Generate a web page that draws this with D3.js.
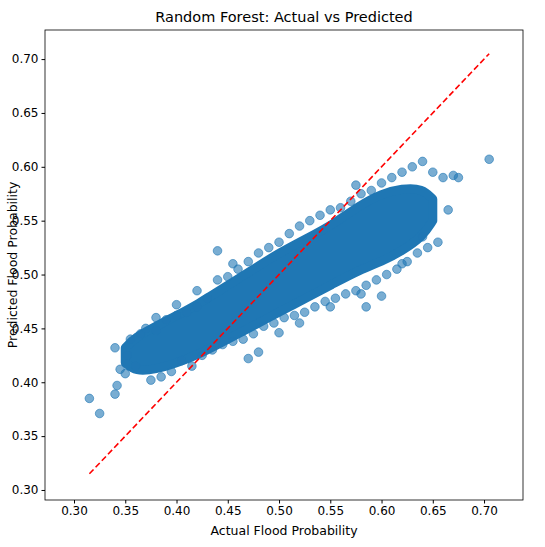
<!DOCTYPE html>
<html><head><meta charset="utf-8">
<script src="https://cdn.jsdelivr.net/npm/d3@7"></script>
<style>body{margin:0;background:#fff;font-family:"DejaVu Sans",sans-serif}</style>
</head><body><svg id="c" width="545" height="547"></svg>
<script>
const xTicks=[0.30,0.35,0.40,0.45,0.50,0.55,0.60,0.65,0.70];
const yTicks=[0.30,0.35,0.40,0.45,0.50,0.55,0.60,0.65,0.70];
// dense core of the cloud (lower / upper edge of predicted per actual)
const bandX=   [0.350,0.360,0.380,0.400,0.420,0.450,0.480,0.500,0.530,0.550,0.580,0.600,0.620,0.640,0.650];
const bandLow= [0.418,0.410,0.412,0.418,0.425,0.440,0.455,0.465,0.480,0.490,0.505,0.512,0.522,0.535,0.550];
const bandHigh=[0.432,0.442,0.452,0.462,0.472,0.490,0.508,0.520,0.535,0.545,0.565,0.575,0.580,0.580,0.570];
// individual scattered points (actual, predicted), aligned by index
const actual=[
0.315,0.325,0.340,0.342,0.340,0.345,0.350,0.352,0.355,0.360,
0.365,0.370,0.375,0.380,0.385,0.390,0.395,0.400,0.405,0.410,
0.415,0.420,0.425,0.430,0.435,0.440,0.445,0.440,0.450,0.455,
0.460,0.465,0.470,0.475,0.480,0.485,0.490,0.495,0.500,0.505,
0.510,0.515,0.520,0.525,0.530,0.535,0.540,0.545,0.550,0.555,
0.560,0.565,0.570,0.575,0.580,0.585,0.590,0.595,0.600,0.605,
0.610,0.615,0.620,0.625,0.630,0.635,0.640,0.645,0.650,0.655,
0.660,0.665,0.670,0.675,0.705,0.585,0.600,0.470,0.480,0.500,
0.520,0.550,0.580,0.620,0.640,0.380,0.400,0.420,0.455,0.575];
const predicted=[
0.385,0.371,0.389,0.397,0.432,0.412,0.408,0.425,0.440,0.415,
0.445,0.450,0.402,0.448,0.405,0.458,0.410,0.462,0.420,0.465,
0.415,0.470,0.425,0.478,0.430,0.495,0.435,0.522,0.498,0.438,
0.505,0.440,0.512,0.445,0.520,0.452,0.525,0.455,0.530,0.460,
0.538,0.462,0.545,0.465,0.550,0.470,0.555,0.475,0.560,0.478,
0.562,0.482,0.568,0.485,0.575,0.490,0.578,0.495,0.585,0.500,
0.590,0.505,0.595,0.512,0.600,0.520,0.605,0.525,0.595,0.530,
0.590,0.560,0.592,0.590,0.607,0.470,0.480,0.422,0.428,0.446,
0.455,0.470,0.482,0.510,0.535,0.460,0.472,0.485,0.510,0.583];

const svg=d3.select("#c");
const L=45,R=523,T=30,B=500;
const x=d3.scaleLinear().domain([0.2717,0.738]).range([L,R]);
const y=d3.scaleLinear().domain([0.2907,0.727]).range([B,T]);
const col="#1f77b4";
const area=d3.area().x((d,i)=>x(bandX[i])).y0((d,i)=>y(bandLow[i])).y1((d,i)=>y(bandHigh[i])).curve(d3.curveBasis);
svg.append("path").datum(bandX).attr("d",area).attr("fill",col).attr("stroke",col).attr("stroke-width",9).attr("stroke-linejoin","round");
svg.append("g").selectAll("circle").data(actual).join("circle")
 .attr("cx",(d)=>x(d)).attr("cy",(d,i)=>y(predicted[i])).attr("r",4.3)
 .attr("fill",col).attr("fill-opacity",0.6).attr("stroke",col).attr("stroke-opacity",0.6);
svg.append("line").attr("x1",x(0.315)).attr("y1",y(0.315)).attr("x2",x(0.705)).attr("y2",y(0.705))
 .attr("stroke","red").attr("stroke-width",1.6).attr("stroke-dasharray","6,3");
svg.append("rect").attr("x",L).attr("y",T).attr("width",R-L).attr("height",B-T).attr("fill","none").attr("stroke","#000").attr("stroke-width",0.8);
const xa=svg.append("g").attr("transform",`translate(0,${B})`).call(d3.axisBottom(x).tickValues(xTicks).tickFormat(d3.format(".2f")).tickSize(3.5).tickSizeOuter(0));
const ya=svg.append("g").attr("transform",`translate(${L},0)`).call(d3.axisLeft(y).tickValues(yTicks).tickFormat(d3.format(".2f")).tickSize(3.5).tickSizeOuter(0));
[xa,ya].forEach(a=>{a.select(".domain").remove();a.selectAll("text").attr("font-size",12).attr("font-family","DejaVu Sans").attr("fill","#000");});
svg.append("text").attr("x",(L+R)/2).attr("y",22).attr("text-anchor","middle").attr("font-size",14.5).text("Random Forest: Actual vs Predicted");
svg.append("text").attr("x",(L+R)/2).attr("y",535).attr("text-anchor","middle").attr("font-size",12.5).text("Actual Flood Probability");
svg.append("text").attr("transform",`translate(13,${(T+B)/2}) rotate(-90)`).attr("text-anchor","middle").attr("dominant-baseline","middle").attr("font-size",12.5).text("Predicted Flood Probability");
</script></body></html>
